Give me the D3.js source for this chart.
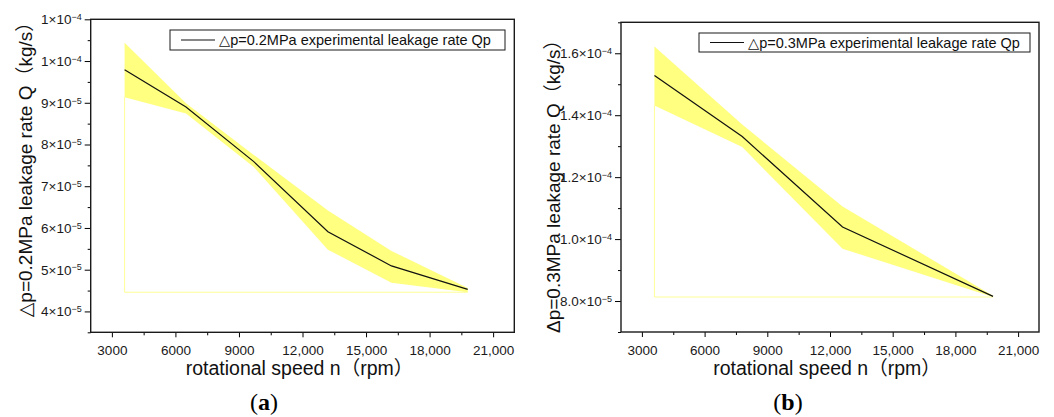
<!DOCTYPE html>
<html lang="en">
<head>
  <meta charset="utf-8">
  <title>Leakage rate vs rotational speed</title>
  <script src="https://d3js.org/d3.v7.min.js"></script>
  <style>
    body { margin: 0; background: #fff; }
    text { font-family: "Liberation Sans", Arial, "DejaVu Sans", "Noto Sans CJK SC", sans-serif; }
  </style>
</head>
<body>
  <div id="chart"></div>
  <script>
    // data
    const speedA = [3600, 6500, 9700, 13200, 16200, 19800];
    const qA = [9.79e-5, 8.90e-5, 7.59e-5, 5.91e-5, 5.09e-5, 4.53e-5];
    const upperA = [1.044e-4, 8.99e-5, 7.75e-5, 6.42e-5, 5.45e-5, 4.56e-5];
    const lowerA = [9.13e-5, 8.74e-5, 7.46e-5, 5.48e-5, 4.69e-5, 4.46e-5];
    const baseA = 4.46e-5;

    const speedB = [3600, 7800, 12600, 19800];
    const qB = [1.528e-4, 1.331e-4, 1.039e-4, 8.15e-5];
    const upperB = [1.622e-4, 1.37e-4, 1.105e-4, 8.17e-5];
    const lowerB = [1.431e-4, 1.297e-4, 0.969e-4, 8.13e-5];
    const baseB = 8.13e-5;

    // ticks
    const xTicks = [3000, 6000, 9000, 12000, 15000, 18000, 21000];
    const xTickLabels = ["3000", "6000", "9000", "12,000", "15,000", "18,000", "21,000"];
    const xMinor = [4500, 7500, 10500, 13500, 16500, 19500];
    const yTicksA = [4e-5, 5e-5, 6e-5, 7e-5, 8e-5, 9e-5, 1e-4, 1.1e-4];
    const yMinorA = [3.5e-5, 4.5e-5, 5.5e-5, 6.5e-5, 7.5e-5, 8.5e-5, 9.5e-5, 1.05e-4];
    const yTicksB = [8e-5, 1e-4, 1.2e-4, 1.4e-4, 1.6e-4];
    const yMinorB = [7e-5, 9e-5, 1.1e-4, 1.3e-4, 1.5e-4, 1.7e-4];

    const legendA = "\u25B3p=0.2MPa experimental leakage rate Qp";
    const legendB = "\u25B3p=0.3MPa experimental leakage rate Qp";
    const yTitleA = "\u25B3p=0.2MPa leakage rate Q\uFF08kg/s\uFF09";
    const yTitleB = "\u0394p=0.3MPa leakage rate Q\uFF08kg/s\uFF09";
    const xTitle = "rotational speed n\uFF08rpm\uFF09";

    const svg = d3.select("#chart").append("svg")
      .attr("width", 1054)
      .attr("height", 417);

    // mantissa x 10^exp, with given decimals
    function sciParts(v, dec) {
      let e = Math.floor(Math.log10(v) + 1e-9);
      let m = v / Math.pow(10, e);
      return [m.toFixed(dec) + "\u00D710", "\u2212" + Math.abs(e)];
    }

    function drawPanel(p) {
      const x = d3.scaleLinear().domain([2000, 22000]).range([p.left, p.right]);
      const y = d3.scaleLinear().domain(p.yDomain).range([p.bottom, p.top]);
      const g = svg.append("g");
      const n = p.speed.length;

      //band
      const band = d3.area()
        .x((d, i) => x(p.speed[i]))
        .y0((d, i) => y(p.lower[i]))
        .y1((d, i) => y(p.upper[i]));
      g.append("path").datum(p.speed)
        .attr("d", band)
        .attr("fill", "#ffff80");

      //pale fill outline down to the base
      g.append("path")
        .attr("d", d3.line()([
          [x(p.speed[0]), y(p.lower[0])],
          [x(p.speed[0]), y(p.base)],
          [x(p.speed[n - 1]), y(p.base)]
        ]))
        .attr("fill", "none")
        .attr("stroke", "#ffff99")
        .attr("stroke-width", 1);

      //experimental line
      g.append("path").datum(p.q)
        .attr("d", d3.line().x((d, i) => x(p.speed[i])).y(d => y(d)))
        .attr("fill", "none")
        .attr("stroke", "#111")
        .attr("stroke-width", 1.2);

      //x-axis
      const xAxis = g.append("g")
        .attr("transform", "translate(0," + p.bottom + ")")
        .call(d3.axisBottom(x).tickValues(xTicks).tickSize(5).tickPadding(8)
          .tickFormat((d, i) => xTickLabels[i]));
      g.append("g")
        .attr("transform", "translate(0," + p.bottom + ")")
        .call(d3.axisBottom(x).tickValues(xMinor).tickSize(3).tickFormat(""));

      //y-axis
      const yAxis = g.append("g")
        .attr("transform", "translate(" + p.left + ",0)")
        .call(d3.axisLeft(y).tickValues(p.yTicks).tickSize(6).tickPadding(3));
      g.append("g")
        .attr("transform", "translate(" + p.left + ",0)")
        .call(d3.axisLeft(y).tickValues(p.yMinor).tickSize(3).tickFormat(""));

      yAxis.selectAll(".tick text").text(null).each(function(d) {
        const parts = sciParts(d, p.dec);
        const t = d3.select(this);
        t.append("tspan").text(parts[0]);
        t.append("tspan").attr("dy", "-0.45em").style("font-size", "9px").text(parts[1]);
      });

      g.selectAll(".domain").remove();
      g.selectAll(".tick line").attr("stroke", "#000").attr("stroke-width", 1);
      g.selectAll(".tick text")
        .attr("fill", "#1a1a1a")
        .style("font-size", "13.5px");
      g.selectAll("g").attr("font-family", null).attr("font-size", null);

      //frame
      g.append("rect")
        .attr("x", p.left).attr("y", p.top)
        .attr("width", p.right - p.left).attr("height", p.bottom - p.top)
        .attr("fill", "none")
        .attr("stroke", "#1a1a1a")
        .attr("stroke-width", 1.4);

      //legend
      g.append("rect")
        .attr("x", p.leg[0]).attr("y", p.leg[1])
        .attr("width", p.leg[2]).attr("height", p.leg[3])
        .attr("fill", "#fff")
        .attr("stroke", "#1a1a1a")
        .attr("stroke-width", 1);
      g.append("line")
        .attr("x1", p.leg[0] + 11).attr("x2", p.leg[0] + 45)
        .attr("y1", p.leg[1] + p.leg[3] / 2).attr("y2", p.leg[1] + p.leg[3] / 2)
        .attr("stroke", "#111").attr("stroke-width", 1.2);
      g.append("text")
        .attr("x", p.leg[0] + 49)
        .attr("y", p.leg[1] + p.leg[3] / 2 + 5)
        .style("font-size", "14.5px")
        .attr("fill", "#111")
        .text(p.legend);

      //x-axis label
      g.append("text")
        .attr("x", (p.left + p.right) / 2 - 3)
        .attr("y", 375)
        .attr("text-anchor", "middle")
        .style("font-size", "19.5px")
        .attr("fill", "#111")
        .text(xTitle);

      //y-axis label
      g.append("text")
        .attr("transform", "translate(" + p.yTitle[0] + "," + p.yTitle[1] + ") rotate(-90)")
        .attr("text-anchor", "middle")
        .style("font-size", "19px")
        .attr("fill", "#111")
        .text(p.yTitleText);

      //panel tag
      const tag = g.append("text")
        .attr("x", p.tagX)
        .attr("y", 410)
        .attr("text-anchor", "middle")
        .style("font-family", "'Liberation Serif', 'Times New Roman', serif")
        .style("font-size", "24px")
        .attr("fill", "#000");
      tag.append("tspan").text("(");
      tag.append("tspan").attr("font-weight", "bold").text(p.tag);
      tag.append("tspan").text(")");
    }

    drawPanel({
      speed: speedA, q: qA, upper: upperA, lower: lowerA, base: baseA,
      left: 90.7, right: 514.3, top: 19.3, bottom: 332.3,
      yDomain: [3.5e-5, 1.1e-4], yTicks: yTicksA, yMinor: yMinorA, dec: 0,
      leg: [170, 30, 335, 20], legend: legendA,
      yTitle: [32, 165], yTitleText: yTitleA,
      tagX: 264, tag: "a"
    });

    drawPanel({
      speed: speedB, q: qB, upper: upperB, lower: lowerB, base: baseB,
      left: 621, right: 1039, top: 22.3, bottom: 332,
      yDomain: [7e-5, 1.7e-4], yTicks: yTicksB, yMinor: yMinorB, dec: 1,
      leg: [699, 33, 331, 19], legend: legendB,
      yTitle: [559.5, 181.7], yTitleText: yTitleB,
      tagX: 788, tag: "b"
    });
  </script>
</body>
</html>
